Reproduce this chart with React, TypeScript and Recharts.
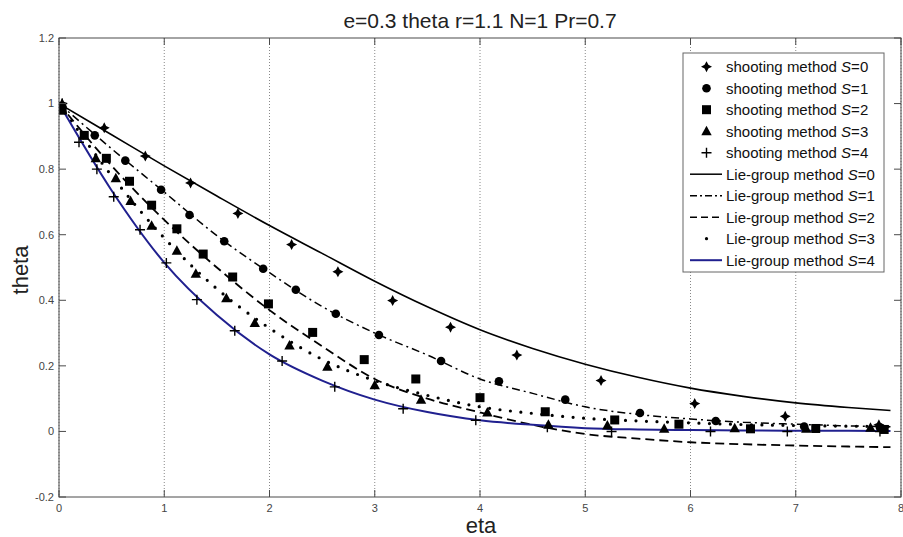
import React from "react";
import {
  ComposedChart,
  Line,
  Scatter,
  XAxis,
  YAxis,
  CartesianGrid,
} from "recharts";

// Lie-group solutions, read along eta
const ETA_LINE = [0, 0.5, 1, 1.5, 2, 2.5, 3, 3.5, 4, 4.5, 5, 5.5, 6, 6.5, 7, 7.5, 7.9];
const LIE_S0 = [1, 0.905, 0.81, 0.718, 0.628, 0.543, 0.458, 0.38, 0.31, 0.253, 0.205, 0.165, 0.132, 0.107, 0.087, 0.073, 0.064];
const LIE_S1 = [1, 0.862, 0.73, 0.597, 0.484, 0.381, 0.3, 0.233, 0.16, 0.116, 0.075, 0.052, 0.038, 0.028, 0.022, 0.017, 0.014];
const LIE_S2 = [1, 0.81, 0.645, 0.5, 0.37, 0.26, 0.16, 0.1, 0.058, 0.02, -0.008, -0.022, -0.033, -0.039, -0.043, -0.046, -0.048];
const LIE_S3 = [1, 0.78, 0.59, 0.435, 0.315, 0.22, 0.155, 0.11, 0.075, 0.055, 0.04, 0.032, 0.026, 0.021, 0.018, 0.016, 0.015];
const LIE_S4 = [1, 0.735, 0.515, 0.355, 0.235, 0.155, 0.097, 0.059, 0.034, 0.02, 0.01, 0.006, 0.004, 0.003, 0.002, 0.002, 0.001];

// shooting method points
const SH0_ETA = [0.03, 0.43, 0.82, 1.25, 1.7, 2.21, 2.65, 3.17, 3.72, 4.35, 5.15, 6.04, 6.9, 7.79];
const SH0_THETA = [1.0, 0.926, 0.84, 0.758, 0.665, 0.57, 0.487, 0.399, 0.318, 0.233, 0.155, 0.085, 0.046, 0.02];
const SH1_ETA = [0.03, 0.34, 0.63, 0.97, 1.24, 1.57, 1.94, 2.25, 2.63, 3.04, 3.63, 4.18, 4.81, 5.52, 6.24, 7.08, 7.8];
const SH1_THETA = [0.99, 0.903, 0.826, 0.737, 0.66, 0.58, 0.496, 0.432, 0.359, 0.294, 0.215, 0.153, 0.097, 0.056, 0.032, 0.015, 0.012];
const SH2_ETA = [0.03, 0.24, 0.45, 0.67, 0.88, 1.12, 1.37, 1.65, 1.99, 2.41, 2.9, 3.39, 4.0, 4.62, 5.28, 5.89, 6.57, 7.19, 7.84];
const SH2_THETA = [0.98, 0.903, 0.833, 0.763, 0.69, 0.618, 0.541, 0.471, 0.389, 0.302, 0.219, 0.16, 0.103, 0.06, 0.035, 0.022, 0.008, 0.009, 0.006];
const SH3_ETA = [0.03, 0.35, 0.54, 0.68, 0.88, 1.12, 1.3, 1.59, 1.86, 2.19, 2.55, 3.0, 3.44, 4.07, 4.65, 5.21, 5.75, 6.42, 7.1, 7.71];
const SH3_THETA = [0.98, 0.833, 0.772, 0.703, 0.627, 0.551, 0.481, 0.406, 0.331, 0.262, 0.197, 0.141, 0.097, 0.058, 0.02, 0.018, 0.008, 0.01, 0.008, 0.011];
const SH4_ETA = [0.03, 0.19, 0.36, 0.52, 0.77, 1.02, 1.31, 1.67, 2.12, 2.62, 3.27, 3.96, 4.64, 5.25, 6.19, 6.92, 7.8];
const SH4_THETA = [1.0, 0.882, 0.8, 0.716, 0.615, 0.514, 0.402, 0.307, 0.215, 0.136, 0.069, 0.034, 0.013, 0.0, 0.0, 0.0, 0.0];

const X_TICKS = [0, 1, 2, 3, 4, 5, 6, 7, 8];
const Y_TICKS = [-0.2, 0, 0.2, 0.4, 0.6, 0.8, 1, 1.2];

const W = 903;
const H = 537;
const PLOT_LEFT = 59;
const PLOT_RIGHT = 901;
const PLOT_TOP = 38;
const PLOT_BOTTOM = 497;
const AXIS = "#4a4a4a";
const BLUE = "#20208f";
const FONT = "'Liberation Sans', Arial, sans-serif";

const pts = (xs: number[], ys: number[]) => xs.map((x, i) => ({ x, y: ys[i] }));

// marker shapes
const star = (cx: number, cy: number, key?: any) => {
  const r = 5.5, k = 1.9;
  const d = `M${cx},${cy - r} L${cx + k},${cy - k} L${cx + r},${cy} L${cx + k},${cy + k} L${cx},${cy + r} L${cx - k},${cy + k} L${cx - r},${cy} L${cx - k},${cy - k} Z`;
  return <path key={key} d={d} fill="#000" />;
};
const circle = (cx: number, cy: number, key?: any) => <circle key={key} cx={cx} cy={cy} r={4.3} fill="#000" />;
const square = (cx: number, cy: number, key?: any) => <rect key={key} x={cx - 4.5} y={cy - 4.5} width={9} height={9} fill="#000" />;
const triangle = (cx: number, cy: number, key?: any) => (
  <path key={key} d={`M${cx},${cy - 5.5} L${cx + 5.2},${cy + 4} L${cx - 5.2},${cy + 4} Z`} fill="#000" />
);
const plus = (cx: number, cy: number, key?: any) => (
  <path key={key} d={`M${cx - 5},${cy} H${cx + 5} M${cx},${cy - 5} V${cy + 5}`} stroke="#000" strokeWidth={1.4} />
);

const shapeOf = (fn: any) => (p: any) => fn(p.cx, p.cy);

const XTick = (props: any) => {
  const { x, y, payload } = props;
  return (
    <g>
      <line x1={x} y1={y} x2={x} y2={y - 7} stroke={AXIS} />
      <line x1={x} y1={PLOT_TOP} x2={x} y2={PLOT_TOP + 7} stroke={AXIS} />
      <text x={x} y={y + 15} textAnchor="middle" fontSize={11} fill="#444" fontFamily={FONT}>
        {payload.value}
      </text>
    </g>
  );
};

const YTick = (props: any) => {
  const { x, y, payload } = props;
  return (
    <g>
      <line x1={x} y1={y} x2={x + 7} y2={y} stroke={AXIS} />
      <line x1={PLOT_RIGHT} y1={y} x2={PLOT_RIGHT - 7} y2={y} stroke={AXIS} />
      <text x={x - 5} y={y} dy="0.35em" textAnchor="end" fontSize={11} fill="#444" fontFamily={FONT}>
        {String(payload.value)}
      </text>
    </g>
  );
};

const LEGEND = [
  { kind: "star", label: "shooting method", s: 0 },
  { kind: "circle", label: "shooting method", s: 1 },
  { kind: "square", label: "shooting method", s: 2 },
  { kind: "triangle", label: "shooting method", s: 3 },
  { kind: "plus", label: "shooting method", s: 4 },
  { kind: "solid", label: "Lie-group method", s: 0 },
  { kind: "dashdot", label: "Lie-group method", s: 1 },
  { kind: "dashed", label: "Lie-group method", s: 2 },
  { kind: "dot", label: "Lie-group method", s: 3 },
  { kind: "blue", label: "Lie-group method", s: 4 },
];

const legendSample = (kind: string, cx: number, cy: number) => {
  switch (kind) {
    case "star": return star(cx, cy);
    case "circle": return circle(cx, cy);
    case "square": return square(cx, cy);
    case "triangle": return triangle(cx, cy);
    case "plus": return plus(cx, cy);
    case "dot": return <circle cx={cx} cy={cy} r={1.6} fill="#000" />;
    case "solid": return <line x1={690} x2={722} y1={cy} y2={cy} stroke="#000" strokeWidth={1.5} />;
    case "dashdot": return <line x1={690} x2={722} y1={cy} y2={cy} stroke="#000" strokeWidth={1.5} strokeDasharray="7 3 2 3" />;
    case "dashed": return <line x1={690} x2={722} y1={cy} y2={cy} stroke="#000" strokeWidth={1.5} strokeDasharray="7 4" />;
    case "blue": return <line x1={690} x2={722} y1={cy} y2={cy} stroke={BLUE} strokeWidth={2} />;
  }
  return null;
};

export default function App() {
  return (
    <div style={{ position: "absolute", left: 0, top: 0, width: W, height: H, background: "#fff" }}>
      <ComposedChart
        width={W}
        height={H}
        margin={{ top: PLOT_TOP, right: W - PLOT_RIGHT, bottom: 0, left: 0 }}
      >
        <CartesianGrid horizontal={false} stroke="#888" strokeDasharray="1 2" />
        <XAxis
          dataKey="x"
          type="number"
          domain={[0, 8]}
          ticks={X_TICKS}
          allowDataOverflow
          height={H - PLOT_BOTTOM}
          axisLine={false}
          tickLine={false}
          tickSize={0}
          tickMargin={0}
          tick={<XTick />}
          interval={0}
        />
        <YAxis
          type="number"
          domain={[-0.2, 1.2]}
          ticks={Y_TICKS}
          allowDataOverflow
          width={PLOT_LEFT}
          axisLine={false}
          tickLine={false}
          tickSize={0}
          tickMargin={0}
          tick={<YTick />}
          interval={0}
        />
        <Line data={pts(ETA_LINE, LIE_S0)} dataKey="y" type="monotone" stroke="#000" strokeWidth={1.6} dot={false} isAnimationActive={false} />
        <Line data={pts(ETA_LINE, LIE_S1)} dataKey="y" type="monotone" stroke="#000" strokeWidth={1.5} strokeDasharray="8 4 2 4" dot={false} isAnimationActive={false} />
        <Line data={pts(ETA_LINE, LIE_S2)} dataKey="y" type="monotone" stroke="#000" strokeWidth={1.8} strokeDasharray="9 5" dot={false} isAnimationActive={false} />
        <Line data={pts(ETA_LINE, LIE_S3)} dataKey="y" type="monotone" stroke="#000" strokeWidth={3.2} strokeLinecap="round" strokeDasharray="0 10.5" dot={false} isAnimationActive={false} />
        <Line data={pts(ETA_LINE, LIE_S4)} dataKey="y" type="monotone" stroke={BLUE} strokeWidth={2} dot={false} isAnimationActive={false} />
        <Scatter data={pts(SH0_ETA, SH0_THETA)} dataKey="y" shape={shapeOf(star)} isAnimationActive={false} />
        <Scatter data={pts(SH1_ETA, SH1_THETA)} dataKey="y" shape={shapeOf(circle)} isAnimationActive={false} />
        <Scatter data={pts(SH2_ETA, SH2_THETA)} dataKey="y" shape={shapeOf(square)} isAnimationActive={false} />
        <Scatter data={pts(SH3_ETA, SH3_THETA)} dataKey="y" shape={shapeOf(triangle)} isAnimationActive={false} />
        <Scatter data={pts(SH4_ETA, SH4_THETA)} dataKey="y" shape={shapeOf(plus)} isAnimationActive={false} />
      </ComposedChart>

      {/* frame, title, axis labels and legend */}
      <svg width={W} height={H} style={{ position: "absolute", left: 0, top: 0, pointerEvents: "none" }}>
        <rect x={PLOT_LEFT} y={PLOT_TOP} width={PLOT_RIGHT - PLOT_LEFT} height={PLOT_BOTTOM - PLOT_TOP} fill="none" stroke={AXIS} />
        <text x={480} y={28} textAnchor="middle" fontSize={21} fill="#222" fontFamily={FONT}>
          e=0.3 theta r=1.1 N=1 Pr=0.7
        </text>
        <text x={481} y={533} textAnchor="middle" fontSize={22} fill="#222" fontFamily={FONT}>
          eta
        </text>
        <text transform="translate(28,270) rotate(-90)" textAnchor="middle" fontSize={22} fill="#222" fontFamily={FONT}>
          theta
        </text>
        <rect x={683} y={53} width={201} height={219} fill="#fff" stroke="#666" />
        {LEGEND.map((e, i) => {
          const cy = 66.7 + i * 21.5;
          return (
            <g key={i}>
              {legendSample(e.kind, 706.5, cy)}
              <text x={726} y={cy + 5.5} fontSize={15} fill="#111" fontFamily={FONT}>
                {e.label} <tspan fontStyle="italic">S</tspan>={e.s}
              </text>
            </g>
          );
        })}
      </svg>
    </div>
  );
}
